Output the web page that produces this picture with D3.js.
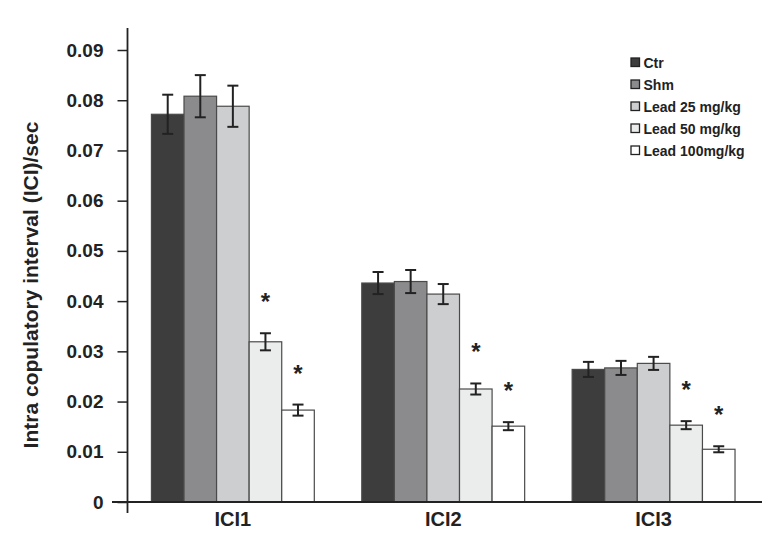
<!DOCTYPE html>
<html>
<head>
<meta charset="utf-8">
<script src="https://cdn.jsdelivr.net/npm/d3@7"></script>
<style>
  html, body { margin: 0; padding: 0; background: #fff; }
  svg { display: block; font-family: "Liberation Sans", Arial, sans-serif; }
</style>
</head>
<body>
<svg id="chart" width="782" height="546"></svg>
<script>
// ---- data ----
const groups = ["ICI1", "ICI2", "ICI3"];
const seriesNames = ["Ctr", "Shm", "Lead 25 mg/kg", "Lead 50 mg/kg", "Lead 100mg/kg"];
const ctr     = [0.0772, 0.0436, 0.0264];
const shm     = [0.0808, 0.0439, 0.0267];
const lead25  = [0.0788, 0.0414, 0.0276];
const lead50  = [0.0319, 0.0225, 0.0153];
const lead100 = [0.0183, 0.0151, 0.0105];
const ctrErr     = [0.0039, 0.0022, 0.0015];
const shmErr     = [0.0042, 0.0023, 0.0014];
const lead25Err  = [0.0041, 0.0020, 0.0013];
const lead50Err  = [0.0017, 0.0011, 0.0008];
const lead100Err = [0.0011, 0.0008, 0.0006];
const significant = [false, false, false, true, true];
const yTicks = [0, 0.01, 0.02, 0.03, 0.04, 0.05, 0.06, 0.07, 0.08, 0.09];
const yTickLabels = ["0", "0.01", "0.02", "0.03", "0.04", "0.05", "0.06", "0.07", "0.08", "0.09"];
const yTitle = "Intra copulatory interval (ICI)/sec";

const values = [ctr, shm, lead25, lead50, lead100];
const errors = [ctrErr, shmErr, lead25Err, lead50Err, lead100Err];
const colors = ["#3d3d3d", "#8b8b8d", "#cdcecf", "#ebedec", "#ffffff"];

// ---- layout ----
const svg = d3.select("#chart");
const x0 = 127.5, x1 = 762, yBase = 502, yTop = 50;

const y = d3.scaleLinear().domain([0, 0.09]).range([yBase, yTop]);
const xg = d3.scaleBand().domain(groups).range([x0, x1])
  .paddingInner(0.2257).paddingOuter(0.121).align(0.47);
const xs = d3.scaleBand().domain(seriesNames).range([0, xg.bandwidth()]).padding(0);

const rows = [];
groups.forEach((g, gi) => {
  seriesNames.forEach((s, si) => {
    rows.push({ g, s, si, v: values[si][gi], e: errors[si][gi] });
  });
});

// bars
const barG = svg.append("g");
barG.selectAll("rect").data(rows).join("rect")
  .attr("x", d => xg(d.g) + xs(d.s))
  .attr("y", d => y(d.v))
  .attr("width", xs.bandwidth())
  .attr("height", d => yBase - y(d.v))
  .attr("fill", d => colors[d.si])
  .attr("stroke", "#4a4a4a")
  .attr("stroke-width", 1.2);

// error bars
const errG = svg.append("g").attr("stroke", "#222").attr("stroke-width", 2).attr("fill", "none");
rows.forEach(d => {
  const cx = xg(d.g) + xs(d.s) + xs.bandwidth() / 2;
  const yt = y(d.v + d.e), yb = y(d.v - d.e);
  errG.append("line").attr("x1", cx).attr("x2", cx).attr("y1", yt).attr("y2", yb);
  errG.append("line").attr("x1", cx - 5.5).attr("x2", cx + 5.5).attr("y1", yt).attr("y2", yt);
  errG.append("line").attr("x1", cx - 5.5).attr("x2", cx + 5.5).attr("y1", yb).attr("y2", yb);
});

// significance stars
svg.append("g").selectAll("text").data(rows.filter(d => significant[d.si])).join("text")
  .attr("x", d => xg(d.g) + xs(d.s) + xs.bandwidth() / 2)
  .attr("y", d => y(d.v + d.e) - 23)
  .attr("text-anchor", "middle")
  .attr("font-size", 24)
  .attr("font-weight", "bold")
  .attr("fill", "#222")
  .text("*");

// y axis
const yAxis = d3.axisLeft(y).tickValues(yTicks)
  .tickFormat((d, i) => yTickLabels[i]).tickSize(10).tickPadding(14);
const yAxG = svg.append("g").attr("transform", `translate(${x0},0)`).call(yAxis);
yAxG.select(".domain").remove();
yAxG.selectAll(".tick line").attr("stroke", "#222").attr("stroke-width", 1.5);
yAxG.selectAll(".tick text").attr("font-size", 19).attr("font-weight", "bold")
  .attr("fill", "#222").attr("font-family", "Liberation Sans, Arial, sans-serif");
svg.append("line").attr("x1", x0).attr("x2", x0).attr("y1", 28).attr("y2", 513)
  .attr("stroke", "#222").attr("stroke-width", 1.8);

// x axis
const xAxis = d3.axisBottom(xg).tickSize(0).tickPadding(10);
const xAxG = svg.append("g").attr("transform", `translate(0,${yBase})`).call(xAxis);
xAxG.select(".domain").remove();
xAxG.selectAll(".tick text").attr("font-size", 20).attr("font-weight", "bold")
  .attr("fill", "#222").attr("font-family", "Liberation Sans, Arial, sans-serif");
svg.append("line").attr("x1", 112).attr("x2", x1).attr("y1", yBase).attr("y2", yBase)
  .attr("stroke", "#222").attr("stroke-width", 1.8);

// y title
svg.append("text")
  .attr("transform", `translate(38,285) rotate(-90)`)
  .attr("text-anchor", "middle")
  .attr("font-size", 21).attr("font-weight", "bold").attr("fill", "#222")
  .text(yTitle);

// legend
const leg = svg.append("g").attr("transform", "translate(631,58)");
seriesNames.forEach((s, i) => {
  const r = leg.append("g").attr("transform", `translate(0,${i * 22})`);
  r.append("rect").attr("width", 8.5).attr("height", 8.5)
    .attr("fill", colors[i]).attr("stroke", "#222").attr("stroke-width", 1.3);
  r.append("text").attr("x", 12.5).attr("y", 9.5)
    .attr("font-size", 14).attr("font-weight", "bold").attr("fill", "#222")
    .text(s);
});
</script>
</body>
</html>
